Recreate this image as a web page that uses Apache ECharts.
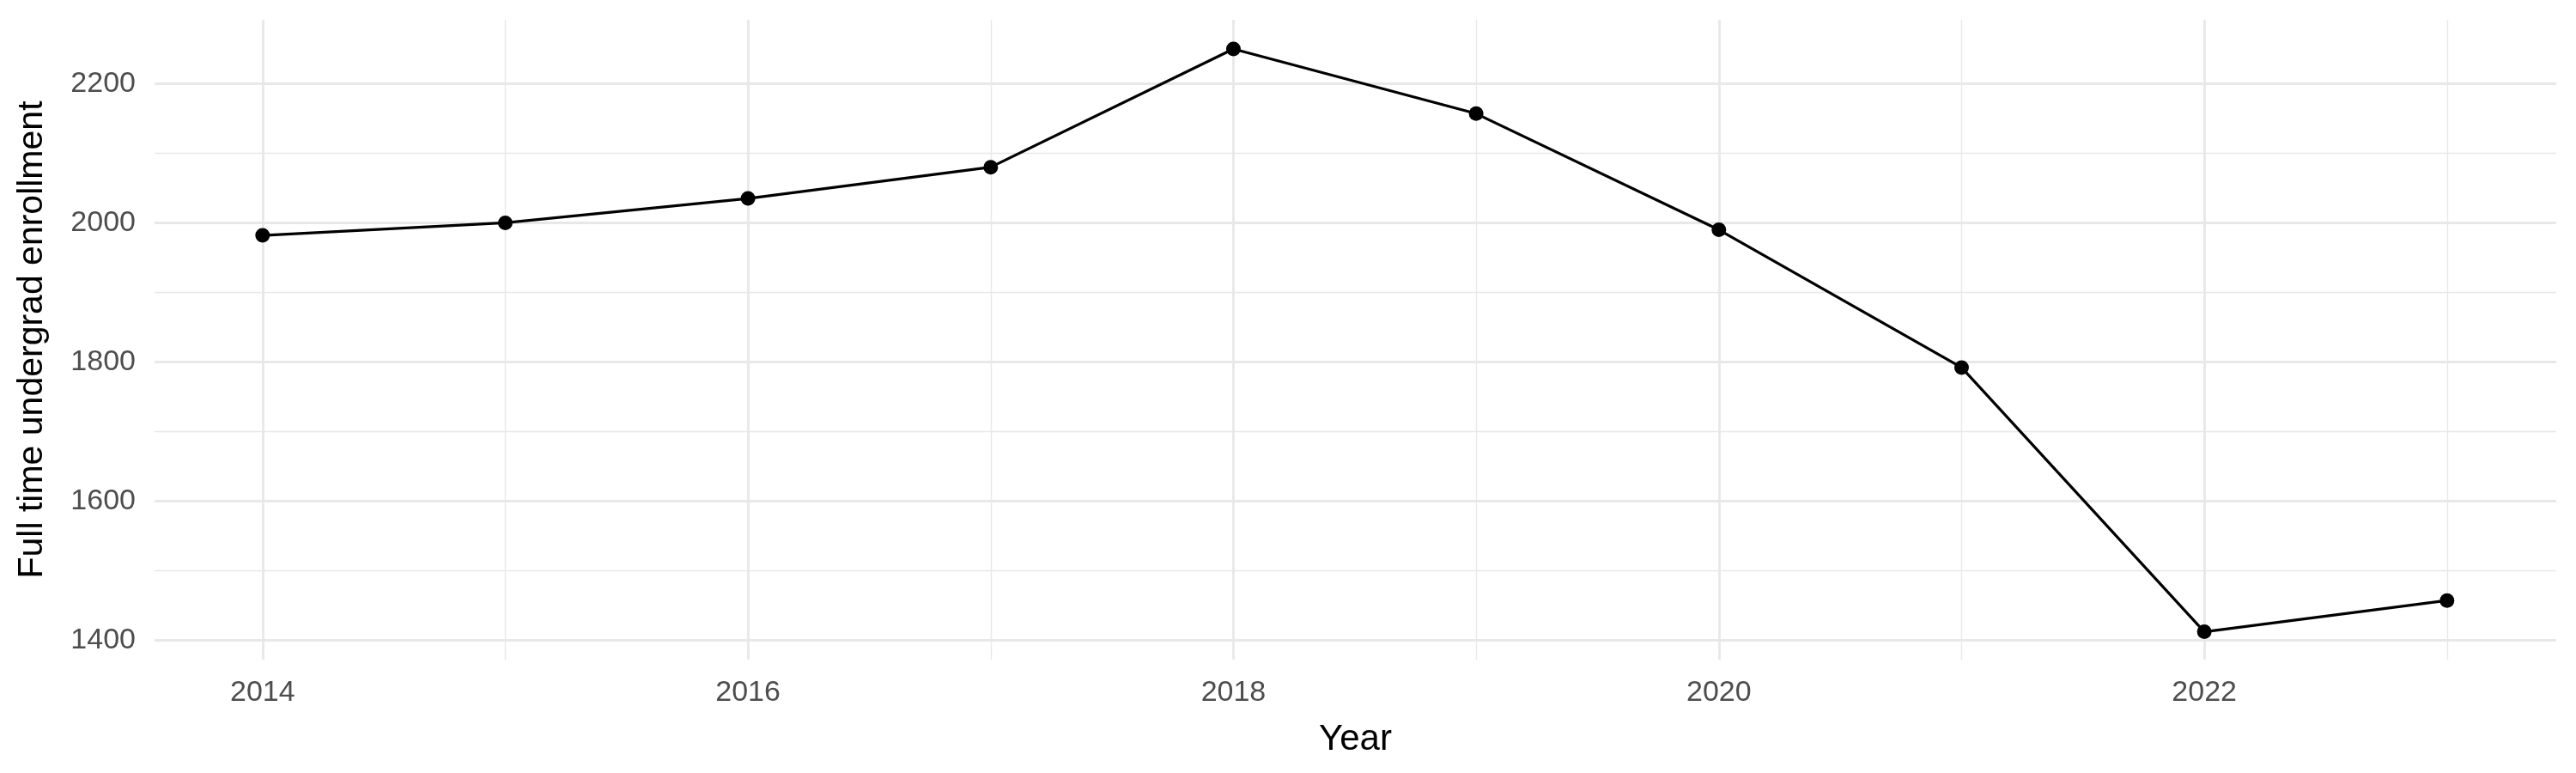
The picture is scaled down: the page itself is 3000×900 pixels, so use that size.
<!DOCTYPE html>
<html><head><meta charset="utf-8">
<script src="https://cdn.jsdelivr.net/npm/echarts@6/dist/echarts.min.js"></script>
<style>html,body{margin:0;padding:0;background:#fff}#c{width:3000px;height:900px}</style>
</head><body><div id="c"></div>
<script>
const years = [2014,2015,2016,2017,2018,2019,2020,2021,2022,2023];
const enrollment = [1982,2000,2035,2080,2250,2157,1990,1792,1412,1457];
const xTicks = [2014,2016,2018,2020,2022];
const yTicks = [1400,1600,1800,2000,2200];
const yMinor = [1500,1700,1900,2100];
const xMinor = [2015,2017,2019,2021,2023];

const grid = '#e8e8e8';
const hLines = yTicks.map(v=>({yAxis:v,lineStyle:{width:2.8}})).concat(yMinor.map(v=>({yAxis:v,lineStyle:{width:1.4}})));
const vLines = xTicks.map(v=>({xAxis:v,lineStyle:{width:2.8}})).concat(xMinor.map(v=>({xAxis:v,lineStyle:{width:1.4}})));
const font = 'Liberation Sans, Arial, sans-serif';
const chart = echarts.init(document.getElementById('c'));
chart.setOption({
  animation:false,
  grid:{left:180,right:23,top:23,bottom:132},
  xAxis:{type:'value',min:2013.555,max:2023.45,name:'Year',nameLocation:'middle',nameGap:72,
    nameTextStyle:{fontSize:42,color:'#000',fontFamily:font},
    axisLine:{show:false},axisTick:{show:false},splitLine:{show:false},
    axisLabel:{customValues:xTicks,formatter:v=>String(v),fontSize:34,color:'#4d4d4d',fontFamily:font,margin:22}},
  yAxis:{type:'value',min:1372,max:2292,name:'Full time undergrad enrollment',nameLocation:'middle',nameGap:122,
    nameTextStyle:{fontSize:41,color:'#000',fontFamily:font},
    axisLine:{show:false},axisTick:{show:false},splitLine:{show:false},
    axisLabel:{customValues:yTicks,formatter:v=>String(v),fontSize:34,color:'#4d4d4d',fontFamily:font,margin:22}},
  series:[
    {type:'line',data:[],silent:true,
      markLine:{silent:true,symbol:'none',label:{show:false},lineStyle:{color:grid,type:'solid'},data:hLines.concat(vLines),animation:false}},
    {type:'line',data:years.map((y,i)=>[y,enrollment[i]]),symbol:'circle',symbolSize:17,
      lineStyle:{color:'#000',width:3.2},itemStyle:{color:'#000'},z:5}
  ]
});
</script></body></html>
